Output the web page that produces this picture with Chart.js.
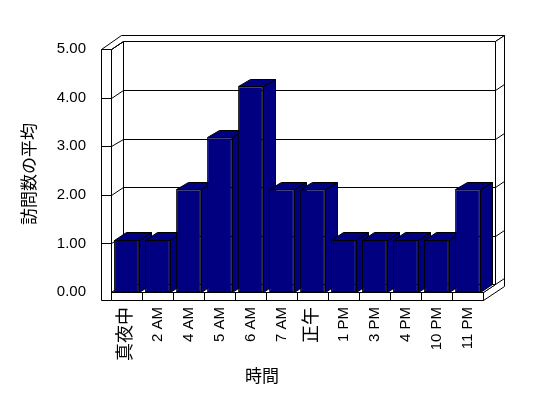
<!DOCTYPE html>
<html>
<head>
<meta charset="utf-8">
<script src="https://cdn.jsdelivr.net/npm/chart.js@4.4.1/dist/chart.umd.min.js"></script>
<style>
  body { margin: 0; background: #fff; }
  canvas { display: block; }
</style>
</head>
<body>
<canvas id="visitsChart" width="548" height="398"></canvas>
<script>
// chart data
const hours = ['真夜中', '2 AM', '4 AM', '5 AM', '6 AM', '7 AM', '正午', '1 PM', '3 PM', '4 PM', '10 PM', '11 PM'];
const avgVisits = [1.07, 1.07, 2.11, 3.18, 4.23, 2.11, 2.11, 1.07, 1.07, 1.07, 1.07, 2.11];
const yMin = 0;
const yMax = 5;
const yStep = 1;
const xTitle = '時間';
const yTitle = '訪問数の平均';

const FONT = "'Liberation Sans', 'Noto Sans CJK JP', sans-serif";
const NAVY = '#000080';

// depth of the box, wall/floor thickness
const depth = { dx: 11.6, dy: -7.6 };
const wallBack = { dx: 9, dy: -6 };
const wallLeft = 10.5;
const floorH = 7.6;

const px = v => Math.round(v) + 0.5;

function poly(c, pts, fill) {
  c.beginPath();
  c.moveTo(px(pts[0][0]), px(pts[0][1]));
  for (let i = 1; i < pts.length; i++) c.lineTo(px(pts[i][0]), px(pts[i][1]));
  c.closePath();
  if (fill) { c.fillStyle = fill; c.fill(); }
  c.stroke();
}

function line(c, x1, y1, x2, y2) {
  c.beginPath();
  c.moveTo(px(x1), px(y1));
  c.lineTo(px(x2), px(y2));
  c.stroke();
}

// draws the 3d box and the side/top faces of the columns
const box3d = {
  id: 'box3d',
  beforeDatasetsDraw(chart) {
    const c = chart.ctx;
    const x = chart.scales.x;
    const y = chart.scales.y;
    const L = x.left, R = x.right;
    const T = y.getPixelForValue(yMax), B = y.getPixelForValue(yMin);
    const { dx, dy } = depth;
    const tx = wallBack.dx, ty = wallBack.dy;
    const inner = [];
    for (let v = yMin + yStep; v < yMax; v += yStep) inner.push(y.getPixelForValue(v));

    c.save();
    c.strokeStyle = '#000';
    c.lineWidth = 1;

    // back wall
    poly(c, [[L + dx, T + dy], [R + dx, T + dy], [R + dx, B + dy], [L + dx, B + dy]], '#fff');
    inner.forEach(py => line(c, L + dx, py + dy, R + dx, py + dy));

    // left wall, inner side
    poly(c, [[L, T], [L + dx, T + dy], [L + dx, B + dy], [L, B]], '#fff');
    inner.forEach(py => line(c, L, py, L + dx, py + dy));

    // left wall, front
    poly(c, [[L - wallLeft, T], [L, T], [L, B + floorH], [L - wallLeft, B + floorH]], '#fff');
    inner.forEach(py => line(c, L - wallLeft, py, L, py));

    // top of the walls
    poly(c, [[L - wallLeft, T], [L, T], [L + dx, T + dy], [R + dx, T + dy],
             [R + dx + tx, T + dy + ty], [L - wallLeft + dx + tx, T + dy + ty]], '#fff');
    line(c, L, T, L + dx, T + dy);

    // right end of the back wall and floor
    poly(c, [[R, B], [R + dx, B + dy], [R + dx, T + dy], [R + dx + tx, T + dy + ty],
             [R + dx + tx, B + floorH + dy + ty], [R, B + floorH]], '#fff');
    inner.forEach(py => line(c, R + dx, py + dy, R + dx + tx, py + dy + ty));
    line(c, R + dx, B + dy, R + dx + tx, B + dy + ty);

    // floor
    poly(c, [[L, B], [R, B], [R + dx, B + dy], [L + dx, B + dy]], '#fff');
    poly(c, [[L, B], [R, B], [R, B + floorH], [L, B + floorH]], '#fff');
    const step = (R - L) / hours.length;
    for (let i = 1; i < hours.length; i++) line(c, L + step * i, B, L + step * i, B + floorH);

    // column sides and tops
    chart.getDatasetMeta(0).data.forEach(bar => {
      const { x: cx, y: top, base, width } = bar.getProps(['x', 'y', 'base', 'width'], true);
      const l = cx - width / 2, r = cx + width / 2;
      poly(c, [[r, top], [r + dx, top + dy], [r + dx, base + dy], [r, base]], NAVY);
      poly(c, [[l, top], [r, top], [r + dx, top + dy], [l + dx, top + dy]], NAVY);
    });
    c.restore();
  },
  afterDraw(chart) {
    const c = chart.ctx;
    c.save();
    c.fillStyle = '#000';
    c.font = '17px ' + FONT;
    c.textAlign = 'center';
    c.textBaseline = 'middle';
    c.fillText(xTitle, 262, 377);
    c.translate(30, 174);
    c.rotate(-Math.PI / 2);
    c.fillText(yTitle, 0, 0);
    c.restore();
  }
};

const ctx = document.getElementById('visitsChart').getContext('2d');
new Chart(ctx, {
  type: 'bar',
  data: {
    labels: hours,
    datasets: [{
      data: avgVisits,
      backgroundColor: NAVY,
      borderColor: '#000',
      borderWidth: 1,
      borderSkipped: false,
      categoryPercentage: 1,
      barPercentage: 0.8
    }]
  },
  options: {
    responsive: false,
    animation: false,
    layout: { padding: { left: 0, right: 65, top: 49, bottom: 0 } },
    plugins: {
      legend: { display: false },
      tooltip: { enabled: false }
    },
    scales: {
      x: {
        grid: { display: false, drawTicks: false },
        border: { display: false },
        ticks: {
          autoSkip: false,
          minRotation: 90,
          maxRotation: 90,
          padding: 15,
          color: '#000',
          font: ctx => ({ family: FONT, size: /[A-Z0-9]/.test(hours[ctx.index]) ? 15 : 18 })
        },
        afterFit: s => { s.height = 106; }
      },
      y: {
        min: yMin,
        max: yMax,
        grid: { display: false, drawTicks: false },
        border: { display: false },
        ticks: {
          stepSize: yStep,
          padding: 25,
          color: '#000',
          font: { family: FONT, size: 15 },
          callback: v => v.toFixed(2)
        },
        afterFit: s => { s.width = 111; }
      }
    }
  },
  plugins: [box3d]
});
</script>
</body>
</html>
